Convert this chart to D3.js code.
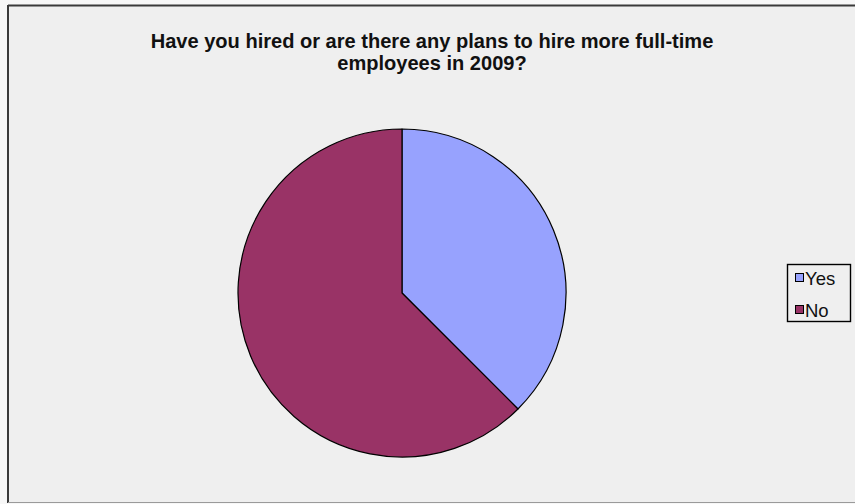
<!DOCTYPE html>
<html>
<head>
<meta charset="utf-8">
<script src="https://cdn.jsdelivr.net/npm/d3@7"></script>
<style>
  html, body { margin: 0; padding: 0; background: #f7f7f7; }
  svg { display: block; }
</style>
</head>
<body>
<svg id="chart" width="855" height="504"></svg>
<script>
// Survey answers and their shares of respondents (%)
const categories = ["Yes", "No"];
const shares = [37.5, 62.5];
const colors = ["#97a2fe", "#993366"];
const titleLines = [
  "Have you hired or are there any plans to hire more full-time",
  "employees in 2009?"
];

const svg = d3.select("#chart");
const W = 855, H = 504;
const fontFamily = "Tahoma, 'Liberation Sans', Arial, sans-serif";

// Chart area frame
svg.append("rect")
  .attr("x", 8).attr("y", 5)
  .attr("width", W + 10).attr("height", 497)
  .attr("fill", "#efefef")
  .attr("stroke", "none");
svg.append("line").attr("x1", 8).attr("x2", W).attr("y1", 5.5).attr("y2", 5.5)
  .attr("stroke", "#3a3a3a").attr("stroke-width", 2);
svg.append("line").attr("x1", 8).attr("x2", 8).attr("y1", 5).attr("y2", 503)
  .attr("stroke", "#3a3a3a").attr("stroke-width", 2);
svg.append("line").attr("x1", 8).attr("x2", W).attr("y1", 502.5).attr("y2", 502.5)
  .attr("stroke", "#9a9a9a").attr("stroke-width", 1);

// Title: sized so the first line spans the header width
const titleWidth = 563;
const title = svg.append("text")
  .attr("text-anchor", "middle")
  .attr("font-family", fontFamily)
  .attr("font-weight", "bold")
  .attr("font-size", 16)
  .attr("fill", "#111");
const spans = titleLines.map((t, i) =>
  title.append("tspan")
    .attr("x", 432)
    .attr("y", 48 + i * 22)
    .text(t)
);
const measured = spans[0].node().getComputedTextLength();
title.attr("font-size", 16 * titleWidth / measured);

// Pie
const cx = 402, cy = 293, r = 164;
const pie = d3.pie().sort(null).value(d => d.value);
const arc = d3.arc().innerRadius(0).outerRadius(r);
const data = categories.map((c, i) => ({ name: c, value: shares[i], color: colors[i] }));

svg.append("g")
  .attr("transform", `translate(${cx},${cy})`)
  .selectAll("path")
  .data(pie(data))
  .join("path")
  .attr("d", arc)
  .attr("fill", d => d.data.color)
  .attr("stroke", "#000")
  .attr("stroke-width", 1.2)
  .attr("stroke-linejoin", "round");

// Legend
const legend = svg.append("g");
legend.append("rect")
  .attr("x", 787.5).attr("y", 264.5)
  .attr("width", 63).attr("height", 57)
  .attr("fill", "#efefef")
  .attr("stroke", "#000").attr("stroke-width", 1.4);

const rowY = d3.scalePoint().domain(categories).range([278, 310]);
const items = legend.selectAll("g.item")
  .data(data)
  .join("g")
  .attr("class", "item")
  .attr("transform", d => `translate(0,${rowY(d.name)})`);
items.append("rect")
  .attr("x", 795.5).attr("y", -4.5)
  .attr("width", 8).attr("height", 8)
  .attr("fill", d => d.color)
  .attr("stroke", "#000").attr("stroke-width", 1);
items.append("text")
  .attr("x", 805)
  .attr("y", 7)
  .attr("font-family", fontFamily)
  .attr("font-size", 18.5)
  .attr("fill", "#111")
  .text(d => d.name);
</script>
</body>
</html>
